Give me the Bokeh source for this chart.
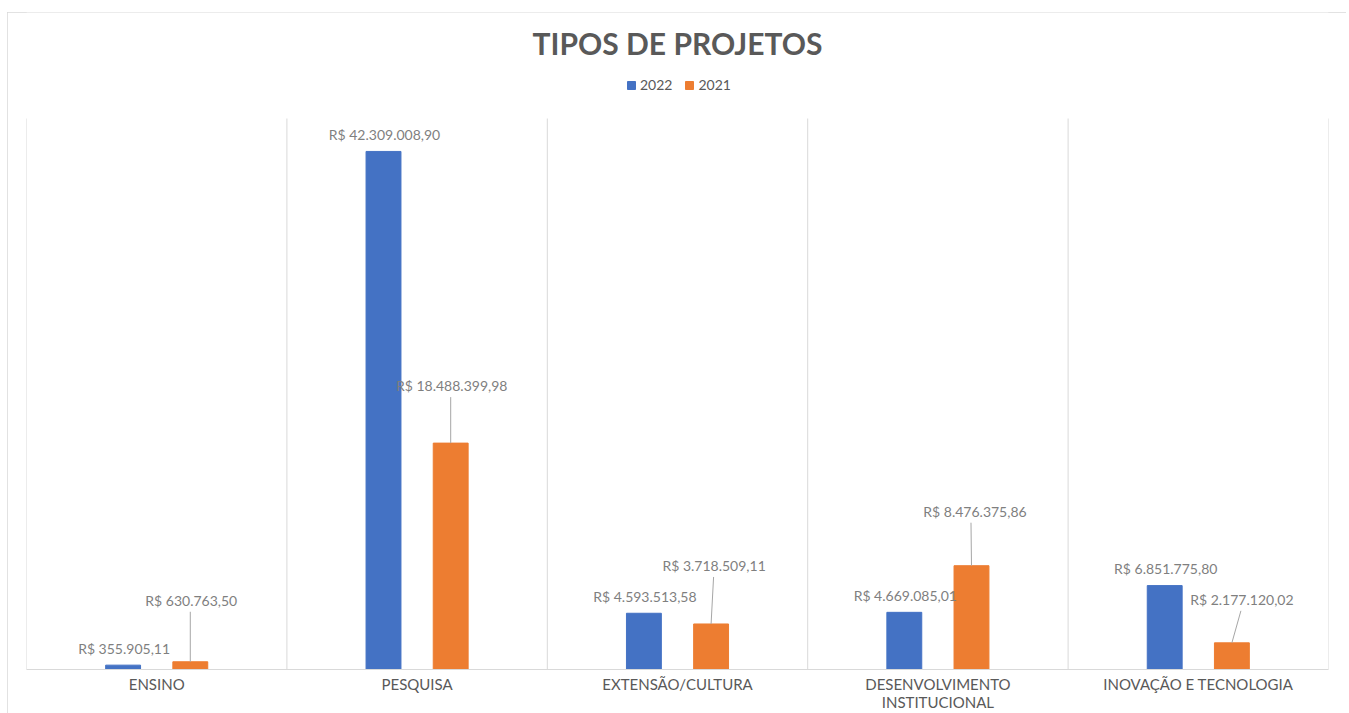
from bokeh.plotting import figure
from bokeh.models import (ColumnDataSource, Range1d, FixedTicker, Label, LabelSet,
                          Legend, LegendItem)
from bokeh.core.properties import value
from bokeh.embed import file_html
from bokeh.resources import INLINE

# ---- data ----
categories = ["ENSINO", "PESQUISA", "EXTENSÃO/CULTURA",
              "DESENVOLVIMENTO\nINSTITUCIONAL", "INOVAÇÃO E TECNOLOGIA"]
series_names = ["2022", "2021"]
values_2022 = [355905.11, 42309008.90, 4593513.58, 4669085.01, 6851775.80]
values_2021 = [630763.50, 18488399.98, 3718509.11, 8476375.86, 2177120.02]

# ---- styling / layout (not data) ----
BLUE = "#4472C4"
ORANGE = "#ED7D31"
GRID = "#d9d9d9"
TXT = "#595959"
LBL = "#7f7f7f"
FONT = "Lato"
Y_MAX = 45e6            # value at the top of the gridlines
PLOT_H = 551            # px from baseline to the gridline tops
FRAME_H = 657           # frame extends up to the chart border
FRAME_W = 1302
Y_TOP = Y_MAX * FRAME_H / PLOT_H
BAR_OFF = 0.129
BAR_W = 0.134
blue_lbl_off = [(1, 17)] * 5
orange_lbl_off = [(1, 61), (1, 58), (3, 58), (3.5, 54), (10, 43)]
orange_leader_top = [(0, 50), (0, 46), (2.5, 47), (-0.5, 43), (9, 32)]

def brl(v):
    s = f"{v:,.2f}".replace(",", "X").replace(".", ",").replace("X", ".")
    return "R$ " + s

n = len(categories)
px_x = n / FRAME_W
px_y = Y_TOP / FRAME_H

idx = list(range(n))
x_blue = [i + 0.5 - BAR_OFF for i in idx]
x_orange = [i + 0.5 + BAR_OFF for i in idx]

p = figure(width=1339, height=701, output_backend="svg", toolbar_location=None,
           x_range=Range1d(0, n), y_range=Range1d(0, Y_TOP),
           min_border_left=19, min_border_right=18, min_border_top=0,
           min_border_bottom=44)
p.margin = (12, 0, 0, 7)
p.styles = {"outline": "1px solid #d9d9d9", "outline-offset": "-1px"}
p.outline_line_color = None
p.background_fill_color = "white"
p.border_fill_color = "white"

# category separators (gridlines)
p.segment(x0=list(range(n + 1)), y0=[0] * (n + 1), x1=list(range(n + 1)),
          y1=[Y_MAX] * (n + 1), line_color=GRID, line_width=1)

src_b = ColumnDataSource(dict(x=x_blue, top=values_2022,
                              lbl=[brl(v) for v in values_2022],
                              dx=[o[0] for o in blue_lbl_off],
                              dy=[o[1] for o in blue_lbl_off]))
src_o = ColumnDataSource(dict(x=x_orange, top=values_2021,
                              lbl=[brl(v) for v in values_2021],
                              dx=[o[0] for o in orange_lbl_off],
                              dy=[o[1] for o in orange_lbl_off],
                              x1=[x + t[0] * px_x for x, t in zip(x_orange, orange_leader_top)],
                              y1=[v + t[1] * px_y for v, t in zip(values_2021, orange_leader_top)]))

rb = p.vbar(x="x", top="top", width=BAR_W, bottom=0, source=src_b,
            fill_color=BLUE, line_color=BLUE)
ro = p.vbar(x="x", top="top", width=BAR_W, bottom=0, source=src_o,
            fill_color=ORANGE, line_color=ORANGE)
p.segment(x0="x", y0="top", x1="x1", y1="y1", source=src_o,
          line_color="#a6a6a6", line_width=1)

for src in (src_b, src_o):
    p.add_layout(LabelSet(x="x", y="top", text="lbl", source=src,
                          x_offset="dx", y_offset="dy",
                          text_align="center", text_baseline="middle",
                          text_font=value(FONT), text_font_size=value("14px"),
                          text_color=value(LBL)))

# axes
p.yaxis.visible = False
p.ygrid.grid_line_color = None
p.xgrid.grid_line_color = None
p.xaxis.ticker = FixedTicker(ticks=[i + 0.5 for i in idx])
p.xaxis.major_label_overrides = {i + 0.5: c for i, c in zip(idx, categories)}
p.xaxis.axis_line_color = GRID
p.xaxis.major_tick_line_color = None
p.xaxis.minor_tick_line_color = None
p.xaxis.major_tick_out = 0
p.xaxis.major_tick_in = 0
p.xaxis.minor_tick_out = 0
p.xaxis.major_label_text_font = FONT
p.xaxis.major_label_text_font_size = "15px"
p.xaxis.major_label_text_color = TXT
p.xaxis.major_label_text_line_height = 1.0
p.xaxis.major_label_standoff = 5

# title
p.add_layout(Label(x=FRAME_W / 2, y=FRAME_H - 30, x_units="screen", y_units="screen",
                   text="TIPOS DE PROJETOS", text_align="center",
                   text_baseline="middle", text_font=FONT,
                   text_font_size="30px", text_font_style="bold",
                   text_color=TXT))

legend = Legend(items=[LegendItem(label=series_names[0], renderers=[rb]),
                       LegendItem(label=series_names[1], renderers=[ro])],
                location=(600, FRAME_H - 81), orientation="horizontal",
                glyph_width=10, glyph_height=10, label_text_font=FONT,
                label_text_font_size="14px", label_text_color=TXT,
                background_fill_alpha=0, border_line_color=None,
                spacing=12, label_standoff=4, padding=0, margin=0)
p.add_layout(legend)

open("out.html", "w").write(file_html(p, INLINE))
